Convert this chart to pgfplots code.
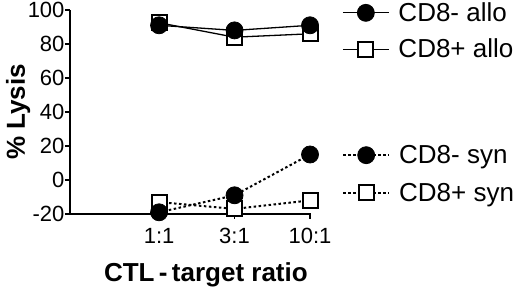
\documentclass[border=0pt]{standalone}
\usepackage{fontspec}
\setmainfont{Liberation Sans}
\usepackage{pgfplots}
\pgfplotsset{compat=1.18}
\begin{document}
\begin{tikzpicture}[x=1pt,y=1pt]
\pgfplotsset{
  common/.style={
    scale only axis, width=241pt, height=204pt,
    at={(70pt,77pt)}, anchor=south west,
    xmin=-1.18, xmax=2.013, ymin=-20, ymax=100,
    clip=false,
    legend image code/.code={\draw[mark repeat=2,mark phase=2,##1] plot coordinates {(0pt,0pt) (23pt,0pt) (46pt,0pt)};},
    legend style={draw=none, fill=none, inner sep=0pt, font=\fontsize{26}{30}\selectfont,
      column sep=9pt, nodes={inner sep=0pt}},
    legend cell align=left,
  },
  circ/.style={mark=*, mark size=8.5pt, mark options={solid, fill=black, line width=0.8pt}},
  sq/.style={mark=square*, mark size=7.5pt, mark options={solid, fill=white, line width=2pt}},
  allo/.style={black, line width=1.3pt},
  syn/.style={black, line width=2pt, dash pattern=on 2.5pt off 2.5pt},
}
\begin{axis}[common,
  axis x line=bottom, axis y line=left,
  axis line style={-, line width=1.5pt},
  tick style={black, line width=1.3pt},
  tick align=outside, major tick length=5pt,
  xtick={0,1,2}, xticklabels={1:1,3:1,10:1},
  ytick={-20,0,20,40,60,80,100},
  /pgf/number format/assume math mode=true,
  ticklabel style={font=\fontsize{22}{26}\selectfont},
  yticklabel style={xshift=3pt},
  xticklabel style={yshift=-6pt},
  xlabel={\textbf{CTL\,-\,target ratio}},
  ylabel={\textbf{\% Lysis}},
  label style={font=\fontsize{26}{30}\selectfont},
  xlabel style={at={(axis description cs:0.564,-0.333)}, anchor=base},
  ylabel style={at={(axis description cs:-0.215,0.5)}, anchor=center},
  legend style={at={(rel axis cs:1.1286,0.897)}, anchor=west, row sep=16pt},
]
\addlegendimage{allo, circ}
\addlegendentry{CD8- allo}
\addlegendimage{allo, sq}
\addlegendentry{CD8+ allo}
\addplot[allo, sq, forget plot] coordinates {(0,92.5) (1,84) (2,86)};
\addplot[allo, circ, forget plot] coordinates {(0,91) (1,88) (2,91)};
\end{axis}
\begin{axis}[common, hide axis,
  legend style={at={(rel axis cs:1.1286,0.196)}, anchor=west, row sep=18pt},
]
\addlegendimage{syn, circ}
\addlegendentry{CD8- syn}
\addlegendimage{syn, sq}
\addlegendentry{CD8+ syn}
\addplot[syn, sq, forget plot] coordinates {(0,-13) (1,-17) (2,-12)};
\addplot[syn, circ, forget plot] coordinates {(0,-19) (1,-9) (2,15)};
\end{axis}
\pgfresetboundingbox
\path[use as bounding box] (0,0) rectangle (520,291);
\end{tikzpicture}
\end{document}
